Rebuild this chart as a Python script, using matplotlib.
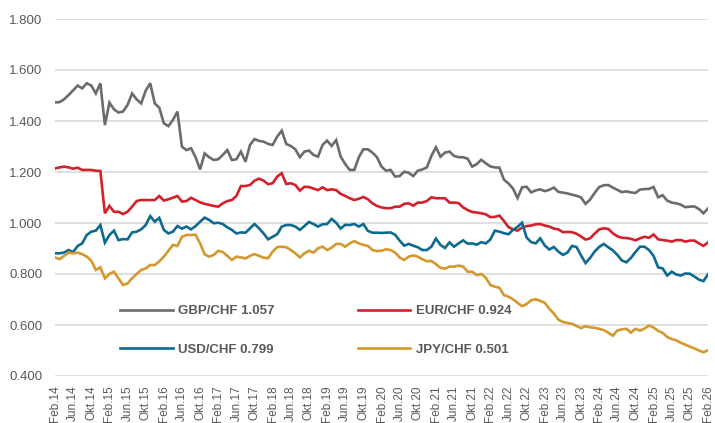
import numpy as np
import pandas as pd
import matplotlib
matplotlib.use("Agg")
import matplotlib.pyplot as plt
from matplotlib.ticker import FormatStrFormatter

plt.rcParams['font.family'] = ['Liberation Sans', 'DejaVu Sans']

## monthly points Feb.14 .. Feb.26
months = pd.date_range('2014-02-01', '2026-02-01', freq='MS')

gbp = [1.473, 1.474, 1.485, 1.502, 1.520, 1.539, 1.528, 1.548, 1.539, 1.508, 1.548, 1.384,
       1.472, 1.446, 1.433, 1.437, 1.463, 1.508, 1.485, 1.469, 1.519, 1.548, 1.469, 1.452,
       1.391, 1.380, 1.404, 1.437, 1.299, 1.286, 1.293, 1.258, 1.210, 1.273, 1.258, 1.247,
       1.250, 1.267, 1.286, 1.247, 1.250, 1.280, 1.240, 1.306, 1.329, 1.322, 1.319, 1.310,
       1.306, 1.339, 1.362, 1.310, 1.302, 1.289, 1.258, 1.280, 1.284, 1.267, 1.260, 1.306,
       1.323, 1.302, 1.325, 1.260, 1.231, 1.208, 1.208, 1.258, 1.289, 1.289, 1.276, 1.258,
       1.221, 1.205, 1.208, 1.182, 1.184, 1.201, 1.197, 1.184, 1.205, 1.210, 1.218, 1.263,
       1.297, 1.260, 1.276, 1.280, 1.263, 1.258, 1.258, 1.252, 1.221, 1.231, 1.248, 1.234,
       1.222, 1.218, 1.217, 1.170, 1.155, 1.135, 1.098, 1.140, 1.142, 1.120, 1.128, 1.132,
       1.125, 1.130, 1.139, 1.122, 1.119, 1.116, 1.111, 1.107, 1.100, 1.075, 1.092, 1.118,
       1.141, 1.148, 1.149, 1.139, 1.130, 1.121, 1.124, 1.120, 1.118, 1.131, 1.133, 1.134,
       1.141, 1.101, 1.109, 1.088, 1.080, 1.077, 1.072, 1.062, 1.064, 1.065, 1.055, 1.038,
       1.057]

eur = [1.214, 1.218, 1.221, 1.218, 1.213, 1.217, 1.208, 1.208, 1.208, 1.205, 1.204, 1.038,
       1.067, 1.044, 1.044, 1.035, 1.044, 1.064, 1.086, 1.090, 1.090, 1.090, 1.090, 1.106,
       1.088, 1.093, 1.099, 1.106, 1.084, 1.086, 1.099, 1.090, 1.081, 1.075, 1.071, 1.067,
       1.064, 1.077, 1.086, 1.090, 1.106, 1.145, 1.145, 1.149, 1.166, 1.174, 1.166, 1.152,
       1.156, 1.182, 1.195, 1.153, 1.156, 1.149, 1.127, 1.142, 1.141, 1.135, 1.129, 1.140,
       1.129, 1.132, 1.129, 1.114, 1.106, 1.097, 1.090, 1.095, 1.102, 1.093, 1.077, 1.067,
       1.061, 1.058, 1.058, 1.064, 1.064, 1.075, 1.077, 1.068, 1.080, 1.080, 1.086, 1.101,
       1.097, 1.097, 1.097, 1.080, 1.080, 1.078, 1.061, 1.051, 1.043, 1.041, 1.038, 1.034,
       1.023, 1.024, 1.029, 1.008, 0.984, 0.975, 0.970, 0.982, 0.988, 0.990, 0.995, 0.996,
       0.990, 0.986, 0.978, 0.975, 0.964, 0.965, 0.964, 0.958, 0.947, 0.935, 0.940, 0.958,
       0.975, 0.979, 0.977, 0.960, 0.948, 0.942, 0.941, 0.938, 0.932, 0.940, 0.946, 0.942,
       0.955, 0.936, 0.933, 0.931, 0.927, 0.933, 0.933, 0.927, 0.931, 0.931, 0.920, 0.910,
       0.924]

usd = [0.881, 0.881, 0.884, 0.894, 0.886, 0.910, 0.920, 0.953, 0.966, 0.970, 0.992, 0.923,
       0.953, 0.970, 0.933, 0.937, 0.936, 0.963, 0.966, 0.975, 0.992, 1.027, 1.005, 1.020,
       0.973, 0.959, 0.966, 0.988, 0.978, 0.986, 0.975, 0.988, 1.005, 1.021, 1.012, 0.999,
       1.001, 0.996, 0.983, 0.973, 0.959, 0.963, 0.962, 0.979, 0.996, 0.979, 0.959, 0.936,
       0.946, 0.956, 0.986, 0.992, 0.992, 0.986, 0.973, 0.988, 1.004, 0.996, 0.986, 0.995,
       0.996, 1.016, 1.001, 0.978, 0.993, 0.992, 0.996, 0.986, 0.996, 0.969, 0.962, 0.962,
       0.961, 0.962, 0.963, 0.954, 0.931, 0.911, 0.918, 0.911, 0.905, 0.894, 0.894, 0.907,
       0.939, 0.914, 0.902, 0.924, 0.907, 0.920, 0.932, 0.919, 0.920, 0.915, 0.925, 0.920,
       0.935, 0.970, 0.966, 0.960, 0.956, 0.973, 0.985, 1.001, 0.943, 0.925, 0.920, 0.940,
       0.912, 0.896, 0.906, 0.888, 0.875, 0.884, 0.910, 0.906, 0.873, 0.843, 0.863, 0.888,
       0.906, 0.918, 0.905, 0.893, 0.875, 0.853, 0.846, 0.863, 0.886, 0.907, 0.907, 0.894,
       0.871, 0.826, 0.822, 0.794, 0.809, 0.798, 0.794, 0.802, 0.801, 0.790, 0.778, 0.772,
       0.799]

jpy = [0.865, 0.858, 0.871, 0.884, 0.881, 0.884, 0.878, 0.868, 0.852, 0.816, 0.826, 0.783,
       0.800, 0.809, 0.783, 0.757, 0.763, 0.783, 0.800, 0.816, 0.822, 0.835, 0.835, 0.850,
       0.868, 0.891, 0.914, 0.910, 0.946, 0.953, 0.953, 0.954, 0.920, 0.877, 0.868, 0.875,
       0.891, 0.886, 0.871, 0.855, 0.868, 0.865, 0.861, 0.871, 0.878, 0.871, 0.864, 0.862,
       0.888, 0.905, 0.907, 0.905, 0.894, 0.881, 0.865, 0.881, 0.891, 0.884, 0.901, 0.907,
       0.894, 0.903, 0.918, 0.918, 0.907, 0.920, 0.929, 0.920, 0.914, 0.910, 0.894, 0.890,
       0.891, 0.897, 0.894, 0.884, 0.865, 0.855, 0.868, 0.873, 0.868, 0.858, 0.850, 0.851,
       0.839, 0.824, 0.821, 0.829, 0.829, 0.833, 0.829, 0.809, 0.809, 0.796, 0.800, 0.785,
       0.757, 0.750, 0.746, 0.717, 0.711, 0.701, 0.687, 0.674, 0.682, 0.697, 0.701, 0.695,
       0.687, 0.664, 0.645, 0.621, 0.612, 0.608, 0.605, 0.596, 0.588, 0.595, 0.591, 0.589,
       0.585, 0.580, 0.570, 0.558, 0.578, 0.583, 0.585, 0.570, 0.585, 0.578, 0.586, 0.598,
       0.590, 0.577, 0.569, 0.553, 0.545, 0.540, 0.530, 0.523, 0.515, 0.508, 0.500, 0.493,
       0.501]

names = ['GBP/CHF', 'EUR/CHF', 'USD/CHF', 'JPY/CHF']
series = [gbp, eur, usd, jpy]
colors = ['#6b6b6b', '#d4202a', '#0d6a90', '#d4982c']

month_abbr = {2: 'Feb', 6: 'Jun', 10: 'Okt'}
tick_pos = list(range(0, len(months), 4))
tick_labels = ['%s.%02d' % (month_abbr[months[i].month], months[i].year % 100) for i in tick_pos]

fig = plt.figure(figsize=(7.15, 4.23), dpi=100)
ax = fig.add_axes([55/715, 1 - 376/423, (708 - 55)/715, (376 - 19)/423])

x = np.arange(len(months))
lines = []
for name, vals, c in zip(names, series, colors):
    l, = ax.plot(x, vals, color=c, lw=1.9, solid_joinstyle='miter',
                 label='%s %.3f' % (name, vals[-1]))
    lines.append(l)

ax.set_xlim(0, len(months) - 1)
ax.set_ylim(0.4, 1.8)
ax.set_yticks(np.arange(0.4, 1.81, 0.2))
ax.yaxis.set_major_formatter(FormatStrFormatter('%.3f'))
ax.set_xticks(tick_pos)
ax.set_xticklabels(tick_labels, rotation=90, va='top', ha='center')
ax.grid(axis='y', color='#d9d9d9', lw=1.2)
ax.set_axisbelow(True)
for s in ax.spines.values():
    s.set_visible(False)
ax.tick_params(axis='y', length=0, pad=9, labelsize=9.5, labelcolor='#595959')
ax.tick_params(axis='x', length=0, pad=7, labelsize=8.5, labelcolor='#595959')

# legend fills by column: GBP, USD | EUR, JPY
order = [0, 2, 1, 3]
leg = ax.legend(handles=[lines[i] for i in order], ncol=2, loc='upper left',
                bbox_to_anchor=(120/715, 1 - 305/423), bbox_transform=fig.transFigure,
                frameon=False, borderpad=0, borderaxespad=0, handlelength=4.0,
                handletextpad=0.4, columnspacing=6.3, labelspacing=2.0,
                prop={'size': 9.5, 'weight': 'bold'})
for t in leg.get_texts():
    t.set_color('#595959')

fig.savefig('out.png', dpi=100)
